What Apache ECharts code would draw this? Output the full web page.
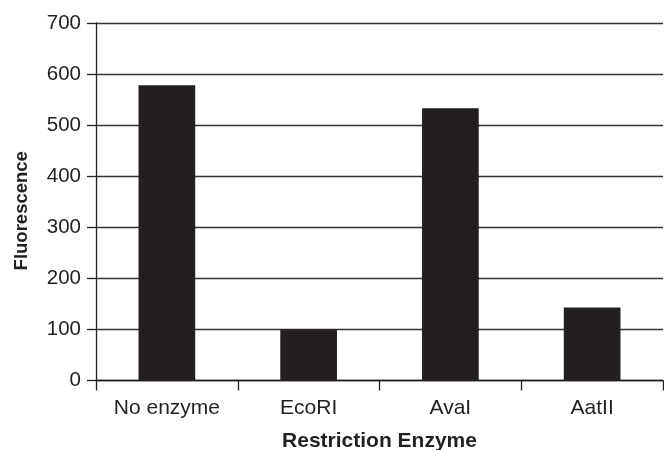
<!DOCTYPE html>
<html>
<head>
<meta charset="utf-8">
<script src="https://cdn.jsdelivr.net/npm/echarts@6/dist/echarts.min.js"></script>
<style>
html,body{margin:0;padding:0;background:#fff;}
#chart{width:664px;height:450px;}
</style>
</head>
<body>
<div id="chart"></div>
<script>
var categories = ['No enzyme', 'EcoRI', 'AvaI', 'AatII'];
var fluorescence = [578, 100, 533, 143];
var yTicks = [0, 100, 200, 300, 400, 500, 600, 700];

var ink = '#231f20';
var font = '"Liberation Sans", Arial, Helvetica, sans-serif';
var chart = echarts.init(document.getElementById('chart'), null, {renderer: 'canvas'});
chart.setOption({
  backgroundColor: '#ffffff',
  animation: false,
  grid: {left: 96, right: 1, top: 23, bottom: 69.5, containLabel: false, outerBoundsMode: 'none'},
  xAxis: {
    type: 'category',
    data: categories,
    name: 'Restriction Enzyme',
    nameLocation: 'middle',
    nameGap: 50,
    nameTextStyle: {fontFamily: font, fontWeight: 'bold', fontSize: 21, color: ink},
    axisLine: {show: true, lineStyle: {color: ink, width: 1.3}},
    axisTick: {show: true, alignWithLabel: false, length: 10, lineStyle: {color: ink, width: 1.3}},
    axisLabel: {fontFamily: font, fontSize: 21, color: ink, margin: 17},
    splitLine: {show: false}
  },
  yAxis: {
    type: 'value',
    min: yTicks[0],
    max: yTicks[yTicks.length - 1],
    interval: 100,
    name: 'Fluorescence',
    nameLocation: 'middle',
    nameGap: 65,
    nameTextStyle: {fontFamily: font, fontWeight: 'bold', fontSize: 18.5, color: ink, padding: [0, 18, 0, 0]},
    axisLine: {show: true, lineStyle: {color: ink, width: 1.3}},
    axisTick: {show: true, inside: false, length: 9, lineStyle: {color: ink, width: 1.3}},
    axisLabel: {fontFamily: font, fontSize: 20.5, color: ink, margin: 15},
    splitLine: {show: true, lineStyle: {color: '#333333', width: 1.3}}
  },
  series: [{
    type: 'bar',
    data: fluorescence,
    barWidth: '40%',
    itemStyle: {color: ink},
    z: 3
  }]
});
</script>
</body>
</html>
